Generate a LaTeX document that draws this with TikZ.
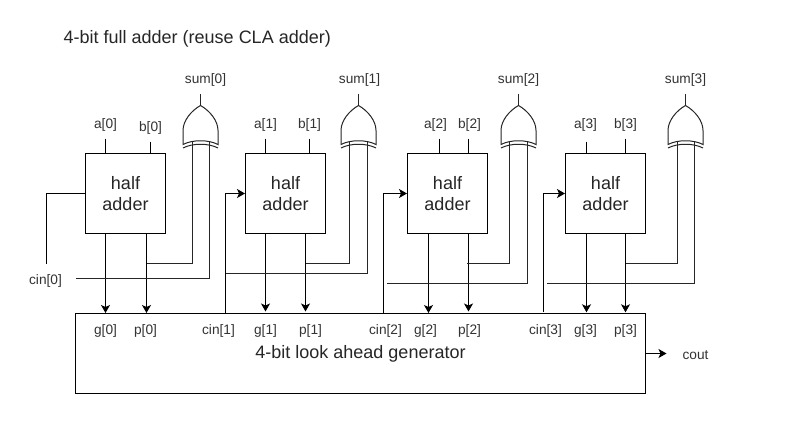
\documentclass[tikz,border=0pt]{standalone}
\usepackage{fontspec}
\setmainfont{Liberation Sans}
\usetikzlibrary{arrows.meta,calc}
\tikzset{
  x=1pt,y=-1pt,
  blockbox/.style={draw=black,line width=1pt,minimum width=80pt,minimum height=80pt,inner sep=0pt,align=center,font=\fontsize{18}{21}\selectfont,text=black!85},
  genbox/.style={draw=black,line width=1pt,minimum width=570pt,minimum height=80pt,inner sep=0pt},
  lbl/.style={font=\fontsize{13.7}{16}\selectfont,text=black!80,inner sep=0pt,yshift=-0.7pt},
  wire/.style={draw=black,line width=1pt},
  arrow/.style={wire,-{Stealth[length=8pt,width=9pt,inset=2pt]}},
  short/.style={shorten >=1.5pt},
  gatewire/.style={draw=black!85,line width=1pt},
}
% name, centre x, left input x, right input x
\newcommand{\xorgate}[4]{%
  \coordinate (#1o) at (#2,105);
  \coordinate (#1t) at (#2,93);
  \coordinate (#1l) at (#3,141);
  \coordinate (#1r) at (#4,141);
  \draw[gatewire] (#2-17.5,144) -- (#2-17.5,130) .. controls (#2-17.5,120) and (#2-9,110) .. (#1o)
     .. controls (#2+9,110) and (#2+17.5,120) .. (#2+17.5,130) -- (#2+17.5,144)
     .. controls (#2+8,139) and (#2-8,139) .. (#2-17.5,144) -- cycle;
  \draw[gatewire] (#2-17.5,147.5) .. controls (#2-8,142.5) and (#2+8,142.5) .. (#2+17.5,147.5);
  \draw[gatewire] (#1o) -- (#1t);
}
\begin{document}
\begin{tikzpicture}
\useasboundingbox (-0.5,-0.5) rectangle (804.5,443.5);
\fill[white] (-0.5,-0.5) rectangle (804.5,443.5);
\node[anchor=west,inner sep=0pt,font=\fontsize{18}{21}\selectfont,text=black!85] (title) at (63,38.5) {4-bit full adder (reuse CLA adder)};
\node[blockbox] (ha0) at (125,193) {half\\adder};
\node[blockbox] (ha1) at (285,193) {half\\adder};
\node[blockbox] (ha2) at (447,193) {half\\adder};
\node[blockbox] (ha3) at (605,193) {half\\adder};
\node[genbox] (gen) at (360,353) {};
\node[font=\fontsize{18}{21}\selectfont,text=black!85,inner sep=0pt] (gentxt) at (360,353.5) {4-bit look ahead generator};
% labels
\foreach \n/\x/\y/\t in {a0/105/124/a[0],b0/150/127/b[0],a1/265/124/a[1],b1/309/124/b[1],a2/435/124/a[2],b2/469/124/b[2],a3/585/124/a[3],b3/625/124/b[3],
  s0/205/79/sum[0],s1/359/79/sum[1],s2/518/79/sum[2],s3/685/79/sum[3],
  g0/105/330/g[0],p0/145/330/p[0],c1/218/330/cin[1],g1/265/330/g[1],p1/310/330/p[1],c2/385/330/cin[2],g2/425/330/g[2],p2/469/330/p[2],c3/545/330/cin[3],g3/585/330/g[3],p3/625/330/p[3],
  c0/45/280/cin[0],co/695/354/cout}
  {\node[lbl] (l\n) at (\x,\y) {\t};}
% gates
\xorgate{x0}{200}{192}{209}
\xorgate{x1}{358}{349}{367}
\xorgate{x2}{518}{509}{527}
\xorgate{x3}{685}{677}{694}
% input stubs
\foreach \n/\x/\y/\h in {a0/105/138/ha0,b0/150/141/ha0,a1/265/138/ha1,b1/309/138/ha1,a2/439/138/ha2,b2/468/138/ha2,a3/586/141/ha3,b3/625/138/ha3}
  {\coordinate (t\n) at (\x,\y); \draw[wire] (t\n) -- (t\n |- \h.north);}
% outputs of the half adders
\coordinate (g0) at (105,233); \coordinate (p0) at (146,233);
\coordinate (g1) at (265,233); \coordinate (p1) at (305,233);
\coordinate (g2) at (428,233); \coordinate (p2) at (468,233);
\coordinate (g3) at (586,233); \coordinate (p3) at (625,233);
\draw[arrow] (g0) -- (g0 |- gen.north);
\draw[arrow] (p0) -- (p0 |- gen.north);
\draw[arrow,short] (g1) -- (g1 |- gen.north);
\draw[arrow,short] (p1) -- (p1 |- gen.north);
\draw[arrow] (g2) -- (g2 |- gen.north);
\draw[arrow,short] (p2) -- (p2 |- gen.north);
\draw[arrow,shorten >=0.7pt] (g3) -- (g3 |- gen.north);
\draw[arrow,shorten >=0.7pt] (p3) -- (p3 |- gen.north);
% gate inputs from propagate
\coordinate (j0) at (146,263); \coordinate (j1) at (305,263); \coordinate (j2) at (466,263); \coordinate (j3) at (625,263);
\foreach \i in {0,1,2,3}
  {\draw[gatewire] (x\i l) -- (x\i l |- j\i) -- (j\i);}
% gate inputs from carry
\coordinate (k0) at (75,278); \coordinate (k1) at (225,273); \coordinate (k2) at (386,283); \coordinate (k3) at (546,283);
\foreach \i in {0,1,2,3}
  {\draw[gatewire] (x\i r) -- (x\i r |- k\i) -- (k\i);}
% carry into the half adders
\coordinate (c0) at (46,263);
\draw[wire] (ha0.west) -- (c0 |- ha0.west) -- (c0);
\coordinate (c1) at (225,313); \coordinate (c2) at (383,313); \coordinate (c3) at (543,311);
\draw[arrow] (c1) -- (c1 |- ha1.west) -- (ha1.west);
\draw[arrow] (c2) -- (c2 |- ha2.west) -- (ha2.west);
\draw[arrow] (c3) -- (c3 |- ha3.west) -- (ha3.west);
% carry out
\coordinate (cout) at (666,353);
\draw[arrow] (gen.east) -- (cout);
\end{tikzpicture}
\end{document}
